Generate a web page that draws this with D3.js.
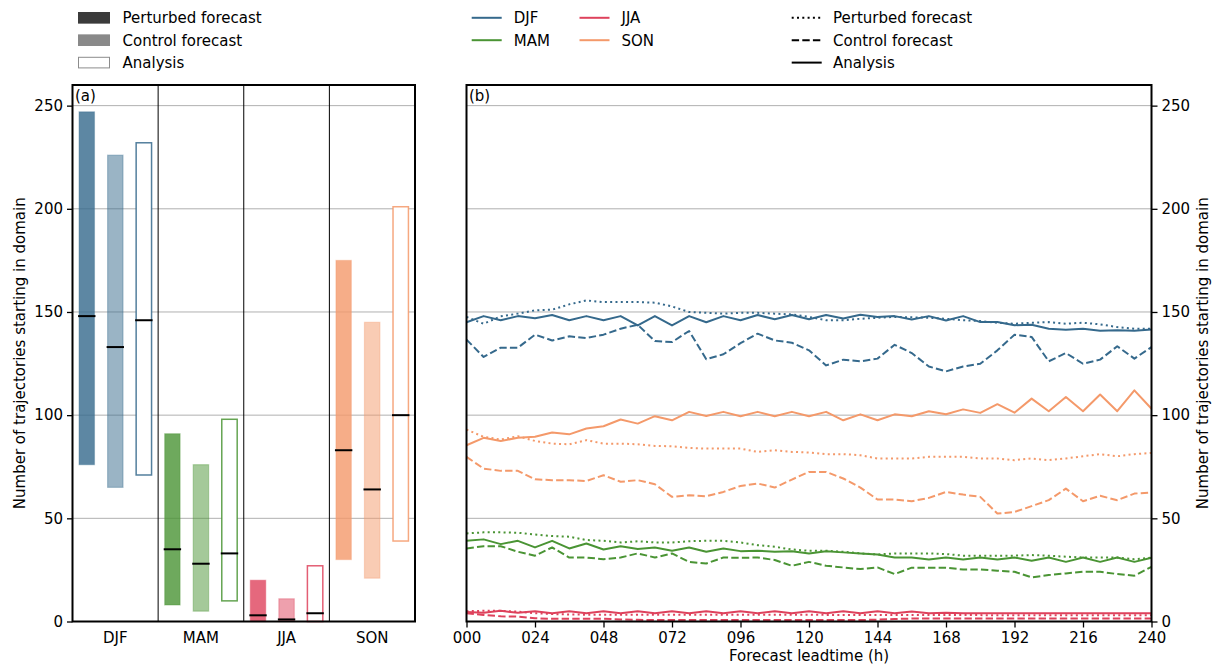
<!DOCTYPE html>
<html>
<head>
<meta charset="utf-8">
<script src="https://cdn.jsdelivr.net/npm/d3@7"></script>
<style>
  body { margin: 0; background: #fff; }
  text { font-family: "DejaVu Sans", sans-serif; }
</style>
</head>
<body>
<svg id="fig" width="1215" height="667"></svg>
<script>
// ---- data -------------------------------------------------------------
const seasons = ["DJF", "MAM", "JJA", "SON"];
const seasonColors = ["#35698c", "#4a9434", "#de425c", "#f4996a"];
const sourceNames = ["Perturbed forecast", "Control forecast", "Analysis"];
const yTicks = [0, 50, 100, 150, 200, 250];
const leadTicks = [0, 24, 48, 72, 96, 120, 144, 168, 192, 216, 240];

// panel (a): spread (low / high) and median of trajectory counts per season
const pertLow  = [76, 8, 0, 30];
const pertHigh = [247, 91, 20, 175];
const pertMed  = [148, 35, 3, 83];
const ctrlLow  = [65, 5, 0, 21];
const ctrlHigh = [226, 76, 11, 145];
const ctrlMed  = [133, 28, 1, 64];
const anaLow   = [71, 10, 0, 39];
const anaHigh  = [232, 98, 27, 201];
const anaMed   = [146, 33, 4, 100];

// panel (b): counts per forecast lead time (h)
const leadtimes = [0, 6, 12, 18, 24, 30, 36, 42, 48, 54, 60, 66, 72, 78, 84, 90, 96, 102, 108, 114, 120,
  126, 132, 138, 144, 150, 156, 162, 168, 174, 180, 186, 192, 198, 204, 210, 216, 222, 228, 234, 240];

const djfPert = [147.6, 144.3, 147.9, 149.2, 150.8, 151.1, 153.7, 155.6, 154.8, 154.8, 154.8, 154.5, 152.7, 150.0,
  149.6, 149.2, 149.6, 149.6, 149.2, 148.8, 147.6, 146.0, 146.0, 146.7, 147.2, 147.6, 147.4, 147.2, 146.7, 146.0,
  145.6, 144.8, 144.3, 144.8, 145.1, 144.3, 144.8, 144.0, 142.7, 141.9, 141.9];
const djfCtrl = [136.6, 128.2, 132.7, 132.7, 139.0, 136.2, 138.2, 137.4, 139.0, 141.9, 143.8, 135.9, 135.4, 140.8,
  127.1, 129.5, 134.9, 139.5, 136.2, 135.1, 131.4, 124.1, 126.9, 126.1, 127.4, 134.1, 130.1, 123.6, 121.2, 123.6,
  124.9, 131.4, 139.0, 137.9, 126.1, 130.1, 124.9, 126.9, 133.4, 127.4, 133.0];
const djfAna = [145, 148, 146, 148, 147, 148.5, 146, 148, 146, 148, 143.5, 148, 143.5, 148, 145, 148, 146, 148.5,
  146.5, 148.5, 146.5, 148.5, 146.8, 148.7, 147.6, 148, 146.4, 148, 145.9, 148, 145.1, 145.1, 143.6, 143.8, 141.9,
  141.4, 141.9, 140.9, 141.1, 140.9, 141.5];

const mamPert = [42.7, 43.2, 43.2, 43.0, 42.2, 41.4, 41.1, 39.5, 39.1, 38.3, 38.9, 38.3, 38.3, 38.9, 39.1, 39.1,
  38.3, 37.0, 36.2, 34.9, 34.3, 34.3, 33.8, 33.0, 32.5, 33.0, 33.0, 33.0, 32.7, 31.9, 31.9, 31.9, 31.9, 32.2, 31.9,
  31.4, 31.0, 31.0, 31.0, 30.2, 30.9];
const mamCtrl = [35.4, 36.5, 36.5, 33.8, 31.9, 35.9, 31.0, 31.0, 30.2, 31.0, 33.0, 31.0, 33.0, 28.9, 28.1, 31.0,
  30.9, 31.0, 29.8, 27.0, 28.9, 27.0, 26.2, 25.4, 26.2, 23.0, 26.1, 26.1, 26.1, 25.2, 25.2, 24.6, 24.1, 21.4, 22.5,
  23.3, 24.1, 24.1, 23.0, 22.2, 26.5];
const mamAna = [39.1, 39.8, 37.5, 39.1, 35.9, 39.1, 35.4, 37.8, 34.9, 36.5, 35.1, 35.9, 34.3, 35.9, 33.8, 35.4,
  34.1, 34.3, 33.8, 34.1, 33.0, 34.1, 33.5, 33.0, 32.5, 31.0, 31.0, 30.1, 31.0, 30.1, 31.0, 30.1, 31.0, 29.4, 31.0,
  28.9, 31.0, 28.9, 31.0, 28.9, 30.9];

const jjaPert = [5.0, 5.2, 5.2, 4.8, 4.0, 3.6, 3.4, 3.3, 3.3, 3.3, 3.3, 3.3, 3.3, 3.3, 3.3, 3.3, 3.3, 3.3, 3.3,
  3.3, 3.3, 3.2, 3.2, 3.2, 3.2, 3.1, 3.1, 3.1, 3.1, 3.1, 3.1, 3.0, 3.0, 3.0, 3.0, 3.0, 3.0, 3.0, 3.0, 3.0, 3.0];
const jjaCtrl = [4.0, 3.2, 2.5, 2.4, 1.6, 1.3, 1.3, 1.3, 1.3, 1.0, 0.8, 0.7, 0.7, 0.7, 0.7, 0.7, 0.7, 0.7, 0.7,
  0.7, 0.7, 0.7, 0.7, 0.7, 0.9, 1.2, 1.4, 1.4, 1.4, 1.4, 1.4, 1.4, 1.4, 1.4, 1.4, 1.4, 1.4, 1.4, 1.4, 1.4, 1.4];
const jjaAna = [4.6, 4.2, 5.2, 4.2, 5.0, 4.0, 5.0, 4.0, 5.0, 4.0, 5.0, 4.0, 5.0, 4.0, 5.0, 4.0, 5.0, 4.0, 5.0,
  4.0, 5.0, 4.0, 5.0, 4.0, 5.0, 4.0, 4.8, 4.0, 4.3, 4.0, 4.0, 4.0, 4.0, 4.0, 4.0, 4.0, 4.0, 4.0, 4.0, 4.0, 4.0];

const sonPert = [93.0, 89.5, 88.2, 89.8, 87.5, 86.2, 85.9, 87.9, 86.2, 86.2, 85.9, 85.1, 84.9, 84.1, 83.8, 83.8,
  83.8, 82.2, 83.0, 82.2, 81.9, 81.1, 81.1, 80.6, 79.0, 79.0, 79.0, 79.8, 79.8, 79.8, 79.0, 79.0, 78.2, 79.0, 78.2,
  79.0, 80.1, 81.1, 80.1, 81.1, 81.7];
const sonCtrl = [79.8, 74.1, 73.0, 73.0, 68.9, 68.5, 68.5, 68.1, 70.9, 67.7, 68.5, 66.5, 60.4, 61.2, 60.7, 62.8,
  65.7, 66.9, 64.9, 68.8, 72.5, 72.5, 69.3, 64.9, 59.1, 59.1, 58.3, 59.9, 62.8, 61.5, 60.4, 52.3, 53.1, 55.9, 58.8,
  64.4, 58.3, 60.9, 58.8, 62.0, 62.5];
const sonAna = [85.4, 89.0, 87.5, 89.0, 89.5, 91.6, 90.7, 93.5, 94.6, 97.9, 95.9, 99.5, 97.5, 101.6, 99.6, 101.6,
  99.5, 101.6, 99.5, 101.6, 99.5, 101.6, 97.5, 100.4, 97.5, 100.4, 99.5, 101.9, 100.4, 102.8, 101.1, 105.3, 101.2,
  108.0, 101.9, 108.8, 101.9, 110.0, 101.9, 112.0, 103.1];

// ---- layout -----------------------------------------------------------
const svg = d3.select("#fig");
const FONT = 15;
const plotTop = 85, plotBottom = 621.5;
const aLeft = 72.5, aRight = 415;
const bLeft = 466.5, bRight = 1151.5;

const y = d3.scaleLinear().domain([0, 260]).range([plotBottom, plotTop]);
const xA = d3.scaleBand().domain(seasons).range([aLeft, aRight]);
const xB = d3.scaleLinear().domain([0, 240]).range([bLeft, bRight]);
const colorOf = d3.scaleOrdinal().domain(seasons).range(seasonColors);

// horizontal grid lines in both panels
function grid(x0, x1) {
  svg.append("g").selectAll("line")
    .data(yTicks.filter(v => v > 0))
    .join("line")
    .attr("x1", x0).attr("x2", x1)
    .attr("y1", d => y(d)).attr("y2", d => y(d))
    .attr("stroke", "#b0b0b0").attr("stroke-width", 1);
}
grid(aLeft, aRight);
grid(bLeft, bRight);

// ---- panel (a): range bars with median marks --------------------------
const sources = [
  { low: pertLow, high: pertHigh, med: pertMed, fill: 0.8 },
  { low: ctrlLow, high: ctrlHigh, med: ctrlMed, fill: 0.5 },
  { low: anaLow,  high: anaHigh,  med: anaMed,  fill: 0 }
];
const bw = xA.bandwidth();
const barW = bw * 0.18;
const barRows = [];
seasons.forEach((s, i) => {
  sources.forEach((src, j) => {
    barRows.push({
      season: s, j,
      cx: xA(s) + bw * (2 * j + 1) / 6,
      low: src.low[i], high: src.high[i], med: src.med[i], fill: src.fill
    });
  });
});

const gBars = svg.append("g");
gBars.selectAll("rect")
  .data(barRows)
  .join("rect")
  .attr("x", d => d.cx - barW / 2)
  .attr("width", barW)
  .attr("y", d => y(d.high))
  .attr("height", d => y(d.low) - y(d.high))
  .attr("fill", d => d.fill > 0 ? colorOf(d.season) : "#fff")
  .attr("fill-opacity", d => d.fill > 0 ? d.fill : 1)
  .attr("stroke", d => colorOf(d.season))
  .attr("stroke-opacity", d => d.fill > 0 ? 0.35 : 0.85)
  .attr("stroke-width", d => d.fill > 0 ? 1.2 : 1.5);

gBars.selectAll("line.med")
  .data(barRows)
  .join("line")
  .attr("class", "med")
  .attr("x1", d => d.cx - barW / 2 - 1)
  .attr("x2", d => d.cx + barW / 2 + 1)
  .attr("y1", d => y(d.med)).attr("y2", d => y(d.med))
  .attr("stroke", "#000").attr("stroke-width", 2);

// season separators
svg.append("g").selectAll("line")
  .data(seasons.slice(1))
  .join("line")
  .attr("x1", d => xA(d)).attr("x2", d => xA(d))
  .attr("y1", plotTop).attr("y2", plotBottom)
  .attr("stroke", "#000").attr("stroke-width", 1);

// ---- panel (b): time series ------------------------------------------
const dashes = ["2,3.3", "7.4,3.2", null];
const series = [
  { season: "DJF", vals: [djfPert, djfCtrl, djfAna] },
  { season: "MAM", vals: [mamPert, mamCtrl, mamAna] },
  { season: "JJA", vals: [jjaPert, jjaCtrl, jjaAna] },
  { season: "SON", vals: [sonPert, sonCtrl, sonAna] }
];
const line = d3.line().x((d, i) => xB(leadtimes[i])).y(d => y(d));
const gLines = svg.append("g");
series.forEach(s => {
  s.vals.forEach((v, k) => {
    gLines.append("path")
      .datum(v)
      .attr("d", line)
      .attr("fill", "none")
      .attr("stroke", colorOf(s.season))
      .attr("stroke-width", 2)
      .attr("stroke-linejoin", "round")
      .attr("stroke-dasharray", dashes[k]);
  });
});

// ---- frames and axes --------------------------------------------------
function frame(x0, x1) {
  svg.append("rect")
    .attr("x", x0).attr("y", plotTop)
    .attr("width", x1 - x0).attr("height", plotBottom - plotTop)
    .attr("fill", "none").attr("stroke", "#000").attr("stroke-width", 2);
}
frame(aLeft, aRight);
frame(bLeft, bRight);

function styleAxis(g) {
  g.select(".domain").remove();
  g.selectAll("text").attr("font-size", FONT).attr("font-family", "DejaVu Sans").attr("fill", "#000");
  g.selectAll(".tick line").attr("stroke", "#000").attr("stroke-width", 1.3);
}

svg.append("g").attr("transform", `translate(${aLeft},0)`)
  .call(d3.axisLeft(y).tickValues(yTicks).tickSize(5.5).tickPadding(4))
  .call(styleAxis);

svg.append("g").attr("transform", `translate(0,${plotBottom})`)
  .call(d3.axisBottom(xA).tickSize(0).tickPadding(10.8))
  .call(styleAxis);

svg.append("g").attr("transform", `translate(${bRight},0)`)
  .call(d3.axisRight(y).tickValues(yTicks).tickSize(6).tickPadding(4))
  .call(styleAxis);

svg.append("g").attr("transform", `translate(0,${plotBottom})`)
  .call(d3.axisBottom(xB).tickValues(leadTicks).tickFormat(d3.format("03d")).tickSize(6).tickPadding(4.8))
  .call(styleAxis);

// axis titles
const yTitle = "Number of trajectories starting in domain";
svg.append("text")
  .attr("transform", `translate(20,${(plotTop + plotBottom) / 2}) rotate(-90)`)
  .attr("text-anchor", "middle").attr("dominant-baseline", "central")
  .attr("font-size", FONT).text(yTitle);
svg.append("text")
  .attr("transform", `translate(1203,${(plotTop + plotBottom) / 2}) rotate(-90)`)
  .attr("text-anchor", "middle").attr("dominant-baseline", "central")
  .attr("font-size", FONT).text(yTitle);
svg.append("text")
  .attr("x", (bLeft + bRight) / 2).attr("y", 661)
  .attr("text-anchor", "middle").attr("font-size", FONT)
  .text("Forecast leadtime (h)");

svg.append("text").attr("x", 75).attr("y", 101).attr("font-size", FONT).text("(a)");
svg.append("text").attr("x", 469).attr("y", 101).attr("font-size", FONT).text("(b)");

// ---- legends ----------------------------------------------------------
const rowY = [17.8, 40.2, 62.6];

// panel (a) legend: filled patches
const patchFill = ["#3b3b3b", "#898989", "#fff"];
const legA = svg.append("g");
sourceNames.forEach((name, k) => {
  legA.append("rect")
    .attr("x", 78.5).attr("y", rowY[k] - 5.3)
    .attr("width", 31).attr("height", 10.6)
    .attr("fill", patchFill[k])
    .attr("stroke", k === 2 ? "#8c8c8c" : patchFill[k]).attr("stroke-width", 1);
  legA.append("text")
    .attr("x", 122.5).attr("y", rowY[k]).attr("dy", "0.36em")
    .attr("font-size", FONT).text(name);
});

// panel (b) legend: season colours in two columns
const legB = svg.append("g");
seasons.forEach((s, i) => {
  const col = Math.floor(i / 2), row = i % 2;
  const x0 = col === 0 ? 471.7 : 579.5;
  legB.append("line")
    .attr("x1", x0).attr("x2", x0 + 30)
    .attr("y1", rowY[row]).attr("y2", rowY[row])
    .attr("stroke", colorOf(s)).attr("stroke-width", 2);
  legB.append("text")
    .attr("x", x0 + 42).attr("y", rowY[row]).attr("dy", "0.36em")
    .attr("font-size", FONT).text(s);
});

// panel (b) legend: line styles
sourceNames.forEach((name, k) => {
  legB.append("line")
    .attr("x1", 791.7).attr("x2", 821.7)
    .attr("y1", rowY[k]).attr("y2", rowY[k])
    .attr("stroke", "#000").attr("stroke-width", 2)
    .attr("stroke-dasharray", dashes[k]);
  legB.append("text")
    .attr("x", 833).attr("y", rowY[k]).attr("dy", "0.36em")
    .attr("font-size", FONT).text(name);
});
</script>
</body>
</html>
